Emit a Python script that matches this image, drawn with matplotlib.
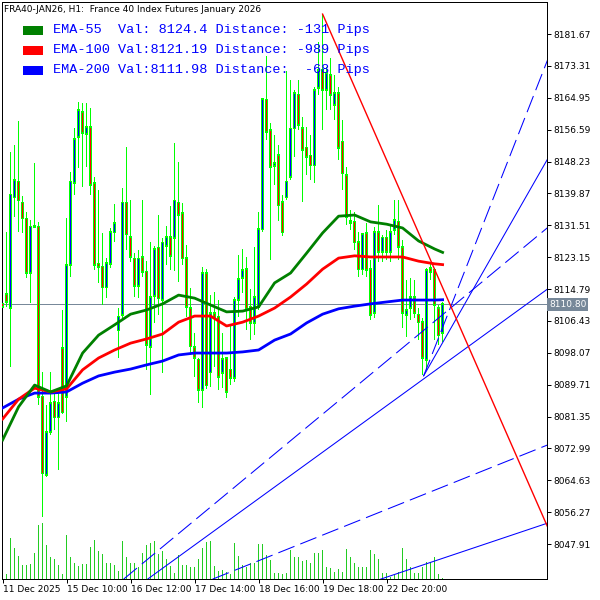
import matplotlib
matplotlib.use("Agg")
import matplotlib.pyplot as plt
from matplotlib.patches import Rectangle
from matplotlib.transforms import blended_transform_factory

# FRA40-JAN26 H1 bars, bar 0 = 11 Dec 2025
opens = [8110.9, 8113.5, 8109.8, 8138.9, 8142.9, 8137.4, 8133.2, 8119.0, 8131.3, 8131.1,
         8086.5, 8066.0, 8077.3, 8085.2, 8081.2, 8099.3, 8086.5, 8121.1, 8142.6, 8154.7,
         8161.2, 8155.5, 8157.3, 8142.6, 8121.4, 8120.6, 8115.3, 8121.4, 8129.7, 8104.0,
         8108.0, 8137.4, 8128.4, 8122.7, 8115.6, 8123.2, 8119.3, 8099.6, 8113.0, 8125.6,
         8111.9, 8126.1, 8128.4, 8128.2, 8137.4, 8134.7, 8122.9, 8109.8, 8099.6, 8096.2,
         8088.3, 8119.0, 8093.0, 8108.5, 8107.5, 8092.8, 8096.7, 8093.6, 8091.5, 8111.9,
         8117.7, 8120.0, 8110.1, 8105.9, 8110.1, 8130.5, 8164.4, 8156.5, 8147.1, 8149.9,
         8137.6, 8138.9, 8144.2, 8157.0, 8165.7, 8157.0, 8151.8, 8149.7, 8147.3, 8167.5,
         8172.2, 8167.0, 8170.9, 8163.1, 8166.2, 8153.4, 8144.7, 8132.1, 8132.4, 8127.1,
         8120.0, 8129.5, 8120.0, 8108.5, 8129.7, 8124.5, 8128.2, 8124.5, 8130.3, 8132.4,
         8125.8, 8108.0, 8109.8, 8112.7, 8108.0, 8106.1, 8096.2, 8120.3, 8119.8, 8109.8,
         8103.3]
highs = [8112.4, 8129.7, 8150.7, 8152.6, 8158.9, 8139.2, 8135.0, 8132.9, 8147.8, 8132.4,
         8093.0, 8084.4, 8093.0, 8087.5, 8087.5, 8109.3, 8133.4, 8145.5, 8157.0, 8163.8,
         8163.6, 8163.6, 8162.3, 8144.2, 8140.8, 8129.5, 8122.9, 8130.8, 8137.1, 8109.8,
         8141.3, 8152.0, 8138.1, 8124.2, 8125.0, 8138.1, 8122.1, 8127.1, 8126.1, 8134.2,
         8128.2, 8131.3, 8136.6, 8153.1, 8148.1, 8137.4, 8126.3, 8115.1, 8103.3, 8096.7,
         8120.6, 8120.0, 8113.2, 8114.0, 8111.9, 8103.3, 8097.0, 8105.4, 8112.7, 8123.7,
         8125.3, 8123.2, 8114.8, 8125.8, 8135.0, 8164.9, 8175.9, 8158.3, 8155.2, 8152.6,
         8139.5, 8172.0, 8169.6, 8167.0, 8169.6, 8159.9, 8157.3, 8155.2, 8167.8, 8179.6,
         8186.9, 8173.0, 8175.4, 8170.9, 8167.8, 8159.1, 8146.8, 8135.5, 8135.0, 8129.7,
         8129.5, 8132.1, 8122.4, 8131.1, 8136.8, 8129.0, 8130.3, 8131.6, 8138.1, 8138.1,
         8127.7, 8117.2, 8117.7, 8117.2, 8109.8, 8107.2, 8120.3, 8121.9, 8120.3, 8110.6,
         8111.4]
lows = [8108.8, 8110.1, 8094.3, 8133.7, 8129.7, 8129.5, 8117.7, 8111.1, 8130.8, 8084.4,
        8055.0, 8065.5, 8076.5, 8077.8, 8067.3, 8082.0, 8079.9, 8117.9, 8139.5, 8146.5,
        8141.6, 8146.8, 8139.5, 8119.8, 8116.4, 8110.6, 8112.4, 8120.3, 8127.1, 8096.7,
        8107.2, 8125.0, 8121.9, 8112.7, 8112.4, 8117.9, 8093.6, 8087.0, 8105.9, 8108.0,
        8092.8, 8121.1, 8119.8, 8119.5, 8116.6, 8121.1, 8107.5, 8097.5, 8091.7, 8084.9,
        8083.6, 8088.6, 8089.1, 8094.3, 8088.3, 8088.8, 8086.2, 8089.6, 8090.4, 8107.5,
        8113.8, 8104.0, 8101.4, 8102.7, 8109.3, 8129.7, 8153.9, 8122.4, 8142.1, 8132.6,
        8128.7, 8138.1, 8143.4, 8149.4, 8156.5, 8137.6, 8144.7, 8143.4, 8142.6, 8165.7,
        8156.5, 8161.7, 8161.7, 8159.1, 8148.6, 8140.8, 8131.6, 8130.3, 8125.0, 8117.9,
        8118.5, 8117.9, 8106.7, 8107.2, 8121.9, 8121.9, 8122.4, 8121.9, 8129.0, 8122.4,
        8104.6, 8102.2, 8106.7, 8107.2, 8101.4, 8092.2, 8093.6, 8117.2, 8101.4, 8100.1,
        8100.9]
closes = [8110.1, 8111.4, 8139.5, 8143.4, 8138.1, 8133.4, 8119.0, 8131.1, 8131.1, 8086.5,
          8066.5, 8077.3, 8084.9, 8081.2, 8084.9, 8082.5, 8121.1, 8142.9, 8154.1, 8161.7,
          8155.7, 8157.3, 8142.1, 8121.1, 8120.6, 8115.3, 8121.6, 8129.7, 8132.1, 8107.5,
          8137.4, 8129.2, 8123.2, 8115.6, 8122.7, 8119.3, 8100.1, 8112.7, 8125.3, 8112.4,
          8126.9, 8128.4, 8123.5, 8137.9, 8134.2, 8122.9, 8110.1, 8099.8, 8096.7, 8088.3,
          8119.0, 8089.6, 8108.5, 8107.2, 8091.7, 8096.4, 8087.8, 8091.5, 8111.9, 8117.4,
          8119.8, 8109.6, 8105.9, 8112.7, 8130.5, 8164.6, 8156.0, 8146.8, 8147.8, 8136.8,
          8129.7, 8142.9, 8156.8, 8166.2, 8157.8, 8151.3, 8149.4, 8147.3, 8167.0, 8172.2,
          8167.0, 8171.4, 8165.7, 8166.2, 8151.8, 8145.2, 8133.7, 8132.6, 8127.1, 8120.0,
          8129.2, 8119.8, 8108.0, 8129.7, 8124.5, 8128.2, 8124.5, 8129.7, 8132.9, 8125.8,
          8108.5, 8109.3, 8112.7, 8108.5, 8106.1, 8096.7, 8119.8, 8119.3, 8110.6, 8102.7,
          8110.8]
volumes = [1000, 500, 4100, 3100, 2300, 1400, 1400, 1500, 2600, 5400,
           5600, 3400, 2200, 2000, 1400, 500, 4400, 2200, 1600, 1300,
           1500, 1500, 3200, 3900, 2800, 2500, 1600, 1600, 1400, 800,
           3800, 2200, 1600, 1600, 1200, 2600, 3400, 3600, 3800, 2500,
           2800, 2000, 1300, 600, 2400, 1400, 1400, 1200, 1200, 2000,
           3100, 3700, 3800, 1300, 800, 900, 700, 500, 3600, 2300,
           1400, 1200, 1600, 1600, 3500, 3500, 2400, 1900, 600, 600,
           500, 600, 2900, 2200, 2200, 1800, 1900, 1600, 2600, 2600,
           2900, 1200, 1100, 700, 1000, 700, 3000, 2200, 1600, 1200,
           1200, 1200, 2900, 2500, 2000, 600, 600, 200, 400, 700,
           3100, 2000, 1200, 600, 600, 1200, 1700, 1700, 2200, 500,
           100]

# moving averages read every 4 bars
ema_idx = [0, 4, 8, 12, 16, 20, 24, 28, 32, 36, 40, 44, 48, 52, 56, 60, 64, 68, 72, 76,
           80, 84, 88, 92, 96, 100, 104, 108, 110]
ema55 = [8075.2, 8083.9, 8089.6, 8087.8, 8089.4, 8098.0, 8102.7, 8105.4, 8108.2, 8109.3,
         8110.9, 8113.2, 8112.4, 8110.6, 8108.8, 8109.0, 8110.1, 8116.4, 8119.0, 8124.2,
         8129.5, 8133.9, 8134.2, 8132.4, 8131.8, 8130.8, 8127.4, 8125.3, 8124.4]
ema100 = [8080.7, 8085.9, 8088.8, 8087.8, 8088.6, 8093.6, 8096.7, 8098.8, 8100.6, 8101.7,
          8103.0, 8106.1, 8107.7, 8107.7, 8105.1, 8106.1, 8107.7, 8109.8, 8112.7, 8116.1,
          8120.0, 8122.9, 8123.5, 8123.2, 8123.2, 8123.2, 8122.1, 8121.4, 8121.19]
ema200 = [8083.6, 8085.9, 8087.5, 8087.5, 8087.8, 8090.1, 8092.0, 8093.0, 8093.8, 8094.9,
          8095.9, 8097.5, 8098.0, 8098.0, 8098.0, 8098.3, 8098.8, 8101.4, 8103.0, 8105.9,
          8108.2, 8109.6, 8110.3, 8110.9, 8111.4, 8111.9, 8111.9, 8111.9, 8111.98]

time_idx = [0, 16, 32, 48, 64, 80, 96]
time_labels = ["11 Dec 2025", "15 Dec 10:00", "16 Dec 12:00", "17 Dec 14:00",
               "18 Dec 16:00", "19 Dec 18:00", "22 Dec 20:00"]
price_ticks = [8181.67, 8173.31, 8164.95, 8156.59, 8148.23, 8139.87, 8131.51, 8123.15,
               8114.79, 8106.43, 8098.07, 8089.71, 8081.35, 8072.99, 8064.63, 8056.27, 8047.91]
bid = 8110.80

# trend lines as (bar, price) anchor pairs
red_line = [(80, 8186.9), (136.25, 8052.4)]
solid_lines = [[(36.25, 8038.7), (136.25, 8114.8)],
               [(105.25, 8092.0), (136.25, 8148.9)],
               [(94.5, 8038.7), (136.25, 8053.4)]]
dashed_lines = [[(105.25, 8092.0), (136.25, 8174.9)],
                [(30.25, 8038.7), (136.25, 8130.9)],
                [(52.5, 8038.7), (136.25, 8073.9)]]

legend_rows = ["EMA-55  Val: 8124.4 Distance: -131 Pips",
               "EMA-100 Val:8121.19 Distance: -989 Pips",
               "EMA-200 Val:8111.98 Distance:  -68 Pips"]
legend_colors = ["#008000", "#FF0000", "#0000FF"]

plt.rcParams['lines.scale_dashes'] = False
fig = plt.figure(figsize=(6, 6), dpi=100)
ax = fig.add_axes([2/600, 21/600, 545/600, 577/600])

n = len(opens)
idx = list(range(n))

# tick volume at the bottom, on its own hidden scale behind the price axes
axv = ax.twinx()
axv.bar(idx, volumes, width=0.25, color='#22CC22', linewidth=0, antialiased=False)
axv.set_ylim(0, 57700)
axv.set_yticks([])
for s in axv.spines.values():
    s.set_visible(False)
ax.set_zorder(axv.get_zorder() + 1)
ax.patch.set_visible(False)

# bid line
ax.axhline(bid, color='#778899', lw=0.72, zorder=1, antialiased=False)

# candles: lime wick and frame, blue/red core
ax.bar(idx, [h - l for l, h in zip(lows, highs)], bottom=lows, width=0.25,
       color='#00FF00', linewidth=0, antialiased=False, zorder=2)
body_lo = [min(o, c) - 0.2 for o, c in zip(opens, closes)]
body_hi = [max(o, c) + 0.2 for o, c in zip(opens, closes)]
ax.bar(idx, [h - l for l, h in zip(body_lo, body_hi)], bottom=body_lo, width=0.75,
       color='#00FF00', linewidth=0, antialiased=False, zorder=3)
core = [i for i in idx if abs(closes[i] - opens[i]) > 0.5]
ax.bar(core, [abs(closes[i] - opens[i]) - 0.3 for i in core],
       bottom=[min(opens[i], closes[i]) + 0.15 for i in core], width=0.25,
       color=['#0000FF' if closes[i] >= opens[i] else '#FF0000' for i in core],
       linewidth=0, antialiased=False, zorder=3.5)

# moving averages
ax.plot(ema_idx, ema200, color='#0000FF', lw=2.0, zorder=4)
ax.plot(ema_idx, ema100, color='#FF0000', lw=2.0, zorder=4)
ax.plot(ema_idx, ema55, color='#008000', lw=2.0, zorder=4)

# trend lines
for seg in solid_lines:
    ax.plot([p[0] for p in seg], [p[1] for p in seg], color='#0000FF', lw=0.75,
            zorder=5)
for seg in dashed_lines:
    ax.plot([p[0] for p in seg], [p[1] for p in seg], color='#0000FF', lw=0.75,
            dashes=(12.5, 4.5), zorder=5)
ax.plot([p[0] for p in red_line], [p[1] for p in red_line], color='#FF0000', lw=1.0,
        zorder=5)

ax.set_xlim(-0.15, 136.1)
ax.set_ylim(8038.74, 8190.07)

ax.yaxis.tick_right()
ax.set_yticks(price_ticks)
ax.set_yticklabels([f"{p:.2f}" for p in price_ticks], fontsize=6.5)
ax.tick_params(axis='y', length=3, width=0.72, pad=1.5)
ax.set_xticks(time_idx)
ax.set_xticklabels(time_labels, fontsize=6.5, ha='left')
ax.tick_params(axis='x', length=3, width=0.72, pad=1.5)
for s in ax.spines.values():
    s.set_linewidth(0.72)

bt = blended_transform_factory(ax.transAxes, ax.transData)
ax.text(1.004, bid, "8110.80", transform=bt, color='white', fontsize=6.5,
        va='center', ha='left',
        bbox=dict(boxstyle='square,pad=0.2', fc='#778899', ec='none'))

fig.text(4/600, 1 - 10/600, "FRA40-JAN26, H1:  France 40 Index Futures January 2026",
         fontsize=6.5, va='center', ha='left')

for k, (txt, col) in enumerate(zip(legend_rows, legend_colors)):
    y = 30 + 20 * k
    fig.add_artist(Rectangle((23/600, 1 - (y + 5)/600), 20/600, 9/600,
                             transform=fig.transFigure, fc=col, ec='none'))
    fig.text(53/600, 1 - y/600, txt, family='Liberation Mono', fontsize=9.7,
             color='#0000FF', va='center', ha='left')

fig.savefig('out.png', dpi=100)
